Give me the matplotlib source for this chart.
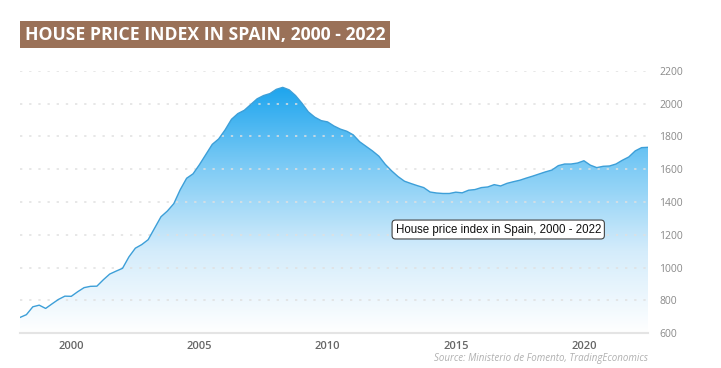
import numpy as np
import matplotlib
matplotlib.use("Agg")
import matplotlib.pyplot as plt
from matplotlib.colors import LinearSegmentedColormap
from matplotlib.patches import Rectangle

# quarterly house price index, 1998 Q1 .. 2022 Q3
values = [695, 712, 760, 770, 750, 778, 805, 825, 824, 852,
          877, 885, 886, 925, 960, 978, 995, 1065, 1118, 1140,
          1170, 1240, 1310, 1345, 1390, 1475, 1545, 1572, 1628, 1690,
          1752, 1785, 1840, 1905, 1940, 1960, 1995, 2030, 2050, 2062,
          2088, 2100, 2085, 2050, 2003, 1950, 1918, 1897, 1889, 1864,
          1845, 1832, 1810, 1768, 1740, 1712, 1680, 1630, 1590, 1555,
          1527, 1513, 1500, 1488, 1461, 1455, 1452, 1452, 1460, 1456,
          1472, 1476, 1488, 1492, 1506, 1498, 1514, 1524, 1533, 1546,
          1558, 1571, 1584, 1595, 1622, 1632, 1632, 1638, 1652, 1625,
          1610, 1618, 1620, 1632, 1655, 1675, 1712, 1732, 1734]
start_year = 1998
years = start_year + np.arange(len(values)) / 4.0

x_ticks = [2000, 2005, 2010, 2015, 2020]
y_ticks = [600, 800, 1000, 1200, 1400, 1600, 1800, 2000, 2200]

title = "HOUSE PRICE INDEX IN SPAIN, 2000 - 2022"
label = "House price index in Spain, 2000 - 2022"
source = "Source: Ministerio de Fomento, TradingEconomics"

fig = plt.figure(figsize=(7.21, 3.68), dpi=100)
ax = fig.add_axes([20 / 721, 1 - 333 / 368, 628 / 721, 262 / 368])

ymin, ymax = 600, 2200

# gradient fill under the curve
cmap = LinearSegmentedColormap.from_list("blu", ["#ffffff", "#d4ecfb", "#80ccf5", "#1ea5ee"])
peak = max(values)
grad = np.linspace(0, 1, 256).reshape(-1, 1)
img = ax.imshow(grad, extent=[years[0], years[-1], ymin, peak], origin="lower",
                aspect="auto", cmap=cmap, zorder=1)
poly = ax.fill_between(years, values, ymin, color="none", lw=0)
img.set_clip_path(poly.get_paths()[0], transform=ax.transData)
ax.plot(years, values, color="#3d9fd8", lw=1.0, zorder=3)
ax.set_xlim(years[0], years[-1])
ax.set_ylim(ymin, ymax)

# dotted grid
for v in y_ticks[1:]:
    ax.axhline(v, color="#e0e0e0", lw=1.1, ls=(0, (1.5, 4.5)), zorder=2)

for s in ["top", "left", "right"]:
    ax.spines[s].set_visible(False)
ax.spines["bottom"].set_color("#e4e4e4")
ax.spines["bottom"].set_linewidth(1.5)

ax.set_xticks(x_ticks)
ax.set_xticklabels([str(t) for t in x_ticks], fontsize=8, color="#666666",
                   fontfamily="Open Sans", fontweight="semibold")
ax.tick_params(axis="x", length=0, pad=6)
ax.yaxis.tick_right()
ax.set_yticks(y_ticks)
ax.set_yticklabels([str(t) for t in y_ticks], fontsize=7.5, color="#8a8a8a",
                   fontfamily="Open Sans")
ax.tick_params(axis="y", length=0, pad=8)

# annotation box
ax.text(0.598, 0.395, label, transform=ax.transAxes, fontsize=8.3, color="#111111",
        fontfamily="Liberation Sans", ha="left", va="center", zorder=5,
        bbox=dict(boxstyle="round,pad=0.3,rounding_size=0.3", fc="white", ec="#444444", lw=0.8))

# title bar
fig.patches.append(Rectangle((20 / 721, 1 - 48 / 368), 370 / 721, 27 / 368,
                             transform=fig.transFigure, fc="#9a7158", ec="none"))
fig.text(25 / 721, 1 - 35 / 368, title, fontsize=12.7, color="white",
         fontweight="bold", fontfamily="Open Sans", va="center", ha="left")

fig.text(648 / 721, 1 - 358 / 368, source, fontsize=7, color="#b0b0b0",
         style="italic", fontfamily="Open Sans", ha="right", va="center")

fig.savefig("out.png", dpi=100)
